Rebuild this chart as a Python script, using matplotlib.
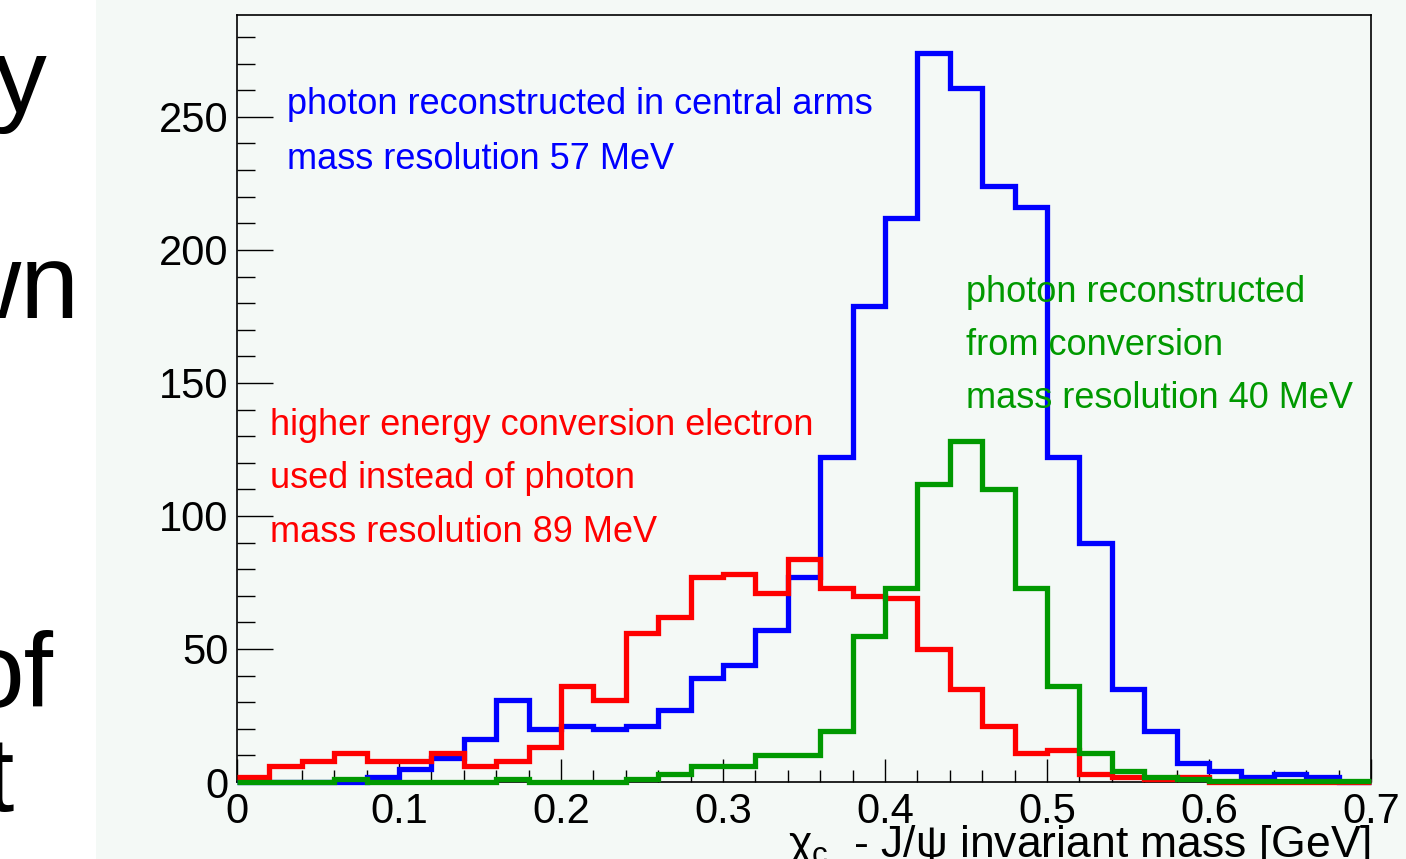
#!/usr/bin/env python3
"""chi_c - J/psi invariant mass histograms (ROOT-style plot on a slide)"""

import numpy as np
import matplotlib
matplotlib.use('Agg')
import matplotlib.pyplot as plt
import matplotlib.patches as patches
from matplotlib.ticker import MultipleLocator

plt.rcParams['font.family'] = ['Liberation Sans', 'DejaVu Sans']
plt.rcParams['mathtext.fontset'] = 'custom'
plt.rcParams['mathtext.rm'] = 'Liberation Sans'
plt.rcParams['mathtext.it'] = 'Liberation Sans:italic'

# 35 bins of 0.02 GeV from 0 to 0.7
bin_edges = np.round(np.arange(0, 0.7001, 0.02), 3)

# photon reconstructed in central arms
central_arms = [0, 0, 0, 0, 2, 5, 9, 16, 31, 20, 21, 20, 21, 27, 39, 44, 57, 77,
                122, 179, 212, 274, 261, 224, 216, 122, 90, 35, 19, 7, 4, 2, 3, 2, 0]
# higher energy conversion electron used instead of photon
conv_electron = [2, 6, 8, 11, 8, 8, 11, 6, 8, 13, 36, 31, 56, 62, 77, 78, 71, 84,
                 73, 70, 69, 50, 35, 21, 11, 12, 3, 2, 1, 2, 0, 0, 0, 0, 0]
# photon reconstructed from conversion
from_conversion = [0, 0, 0, 1, 0, 0, 0, 0, 1, 0, 0, 0, 1, 3, 6, 6, 10, 10,
                   19, 55, 73, 112, 128, 110, 73, 36, 11, 4, 2, 1, 0.5, 0.5, 0.5, 0.5, 0.5]

x_ticks = [0, 0.1, 0.2, 0.3, 0.4, 0.5, 0.6, 0.7]
x_tick_labels = ['0', '0.1', '0.2', '0.3', '0.4', '0.5', '0.6', '0.7']
y_ticks = [0, 50, 100, 150, 200, 250]

blue_text = ['photon reconstructed in central arms', 'mass resolution 57 MeV']
red_text = ['higher energy conversion electron', 'used instead of photon',
            'mass resolution 89 MeV']
green_text = ['photon reconstructed', 'from conversion', 'mass resolution 40 MeV']

# slide words that are cut off at the left edge
slide_words = ['y', 'wn', 'of', 't']

W, H = 1406, 859
BG = '#f4f9f6'
GREEN = '#009900'

fig = plt.figure(figsize=(W / 100, H / 100), dpi=100)
fig.patch.set_facecolor('white')
fig.patches.append(patches.Rectangle((96 / W, 0), 1 - 96 / W, 1, transform=fig.transFigure,
                                     facecolor=BG, edgecolor='none', zorder=-5))

# slide text fragments (right edge px, baseline px)
word_pos = [(46, 112), (79, 318), (54, 707), (14, 811)]
for word, (xr, yb) in zip(slide_words, word_pos):
    fig.text(xr / W, 1 - yb / H, word, ha='right', va='baseline', fontsize=76, color='black')

ax = fig.add_axes([237 / W, 77 / H, 1134 / W, 767 / H])
ax.set_facecolor(BG)

ax.stairs(central_arms, bin_edges, baseline=None, color='#0000ff', lw=3.8, clip_on=False, zorder=3)
ax.stairs(conv_electron, bin_edges, baseline=None, color='#ff0000', lw=3.8, clip_on=False, zorder=4)
ax.stairs(from_conversion, bin_edges, baseline=None, color=GREEN, lw=3.8, clip_on=False, zorder=5)

ax.set_xlim(0, 0.7)
ax.set_ylim(0, 288.3)

ax.set_xticks(x_ticks)
ax.set_xticklabels(x_tick_labels)
ax.set_yticks(y_ticks)
ax.xaxis.set_minor_locator(MultipleLocator(0.02))
ax.yaxis.set_minor_locator(MultipleLocator(10))
ax.tick_params(axis='both', which='both', direction='in', top=False, right=False,
               labelsize=30, width=1.0, colors='black')
ax.tick_params(axis='y', which='major', length=26, pad=6)
ax.tick_params(axis='y', which='minor', length=13)
ax.tick_params(axis='x', which='major', length=16.5, pad=7)
ax.tick_params(axis='x', which='minor', length=8.5)
for sp in ax.spines.values():
    sp.set_linewidth(1.2)

fig.text(1371 / W, 1 - 857 / H, 'χ$_{\\mathregular{c}}$  - J/ψ invariant mass [GeV]',
         ha='right', va='baseline', fontsize=32)

def put_lines(lines, x_px, first_base, step, color):
    for i, line in enumerate(lines):
        fig.text(x_px / W, 1 - (first_base + i * step) / H, line, ha='left', va='baseline',
                 fontsize=26, color=color, zorder=2)

put_lines(blue_text, 287, 114, 55, '#0000ff')
put_lines(red_text, 270, 435, 53.3, '#ff0000')
put_lines(green_text, 966, 301.5, 53.3, GREEN)

fig.savefig('out.png', dpi=100, facecolor=fig.get_facecolor())
